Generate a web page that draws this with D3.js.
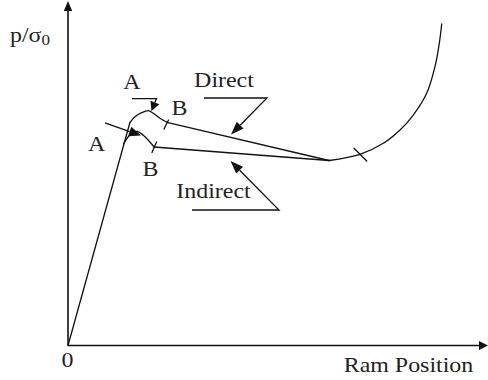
<!DOCTYPE html>
<html><head><meta charset="utf-8">
<script src="https://cdn.jsdelivr.net/npm/d3@7"></script>
<style>html,body{margin:0;padding:0;background:#fff;} svg{display:block;}</style>
</head><body><svg id="chart" width="488" height="380"></svg>
<script>
// Pressure ratio p/σ0 against ram position (arbitrary units, 0–100 on both axes)
// Elastic rise shared by both processes
const rise = [[0, 0], [14.76, 64.79]];
// Direct extrusion: breakthrough hump A–B, then falling plateau
const directHump = [[14.76, 64.79], [15.95, 66.41], [17.55, 67.58], [19.12, 68.16], [20.31, 67.40], [21.90, 65.95], [23.57, 64.79]];
const directTail = [[23.57, 64.79], [62.14, 53.70]];
// Indirect extrusion: lower hump, nearly flat plateau
const indirectHump = [[13.21, 58.49], [14.29, 60.52], [15.48, 61.83], [16.55, 62.12], [17.86, 61.10], [19.29, 59.36], [20.48, 57.62]];
const indirectTail = [[20.48, 57.62], [62.14, 53.70]];
// Final upturn
const upturn = [[62.14, 53.70], [69.52, 55.50], [75.07, 58.69], [79.05, 62.55], [82.21, 66.90], [85.40, 73.20], [87.38, 80.93], [88.40, 87.72], [88.98, 93.32]];
// Short cross-marks on the curves (B points and start of upturn)
const marks = [
  [[22.86, 62.83], [23.93, 65.44]],
  [[20.00, 56.02], [21.07, 59.07]],
  [[68.10, 57.24], [71.12, 53.56]]
];
// Axis tick labels
const xTickLabels = ["0"];
const xTitle = "Ram Position";
const yTitle = "p/σ";
const ySub = "0";

const INK = "#111";
const SX = 1.14;          // horizontal stretch of the lettering
const FS = 21;
const FONT = "Liberation Serif, Times New Roman, serif";

const x = d3.scaleLinear().domain([0, 100]).range([68, 488]);
const y = d3.scaleLinear().domain([0, 100]).range([345.5, 1]);

const svg = d3.select("#chart");
const g = svg.append("g");

// axes with arrowheads
function axisArrow(x0, y0, x1, y1, L, Wd, sw) {
  const dx = x1 - x0, dy = y1 - y0, len = Math.hypot(dx, dy);
  const ux = dx / len, uy = dy / len;
  const bx = x1 - ux * L, by = y1 - uy * L;
  g.append("line").attr("x1", x0).attr("y1", y0).attr("x2", bx).attr("y2", by)
    .attr("stroke", INK).attr("stroke-width", sw);
  g.append("path")
    .attr("d", `M${x1},${y1}L${bx - uy * Wd},${by + ux * Wd}L${bx + uy * Wd},${by - ux * Wd}Z`)
    .attr("fill", INK);
}
axisArrow(x(0), y(0), x(0), y(100), 10, 4.2, 1.6);
axisArrow(x(0), y(0), x(100), y(0), 9, 4.4, 1.6);

// curves
const straight = d3.line().x(d => x(d[0])).y(d => y(d[1]));
const smooth = d3.line().x(d => x(d[0])).y(d => y(d[1])).curve(d3.curveCatmullRom.alpha(0.5));
const curveStyle = sel => sel.attr("fill", "none").attr("stroke", INK)
  .attr("stroke-width", 1.3).attr("stroke-linejoin", "round").attr("stroke-linecap", "round");

[rise, directTail, indirectTail].forEach(s => g.append("path").attr("d", straight(s)).call(curveStyle));
[directHump, indirectHump, upturn].forEach(s => g.append("path").attr("d", smooth(s)).call(curveStyle));
marks.forEach(m => g.append("path").attr("d", straight(m)).call(curveStyle));

// leader arrows
function leader(pts, L, Wd) {
  const p = pts.map(([a, b]) => [x(a), y(b)]);
  const tip = p[p.length - 1], prev = p[p.length - 2];
  const dx = tip[0] - prev[0], dy = tip[1] - prev[1], len = Math.hypot(dx, dy);
  const ux = dx / len, uy = dy / len;
  const base = [tip[0] - ux * L, tip[1] - uy * L];
  g.append("path").attr("d", d3.line()(p.slice(0, -1).concat([base])))
    .attr("fill", "none").attr("stroke", INK).attr("stroke-width", 1.3);
  g.append("path")
    .attr("d", `M${tip[0]},${tip[1]}L${base[0] - uy * Wd},${base[1] + ux * Wd}L${base[0] + uy * Wd},${base[1] - ux * Wd}Z`)
    .attr("fill", INK);
}
leader([[15.24, 71.68], [21.07, 71.68], [19.88, 68.10]], 9, 4.8);
leader([[8.81, 64.59], [17.38, 60.96]], 12, 5);
leader([[32.38, 71.84], [47.38, 71.84], [38.81, 61.25]], 13, 4.8);
leader([[29.52, 39.33], [50.24, 39.33], [38.69, 53.56]], 13, 4.8);

// lettering
const labels = [
  { t: "A", x: 15.24, y: 74.46 },
  { t: "B", x: 26.55, y: 66.91 },
  { t: "A", x: 6.79, y: 56.60 },
  { t: "B", x: 19.64, y: 49.20 },
  { t: "Direct", x: 37.14, y: 75.04 },
  { t: "Indirect", x: 34.64, y: 42.96 },
  { t: xTitle, x: 81.07, y: -7.69 },
  { t: xTickLabels[0], x: -0.12, y: -6.24 }
];
labels.forEach(d => {
  g.append("text")
    .attr("transform", `translate(${x(d.x)},${y(d.y)}) scale(${SX},1)`)
    .attr("text-anchor", "middle")
    .attr("font-family", FONT).attr("font-size", FS).attr("fill", "#222")
    .text(d.t);
});

const yt = g.append("text")
  .attr("transform", `translate(10,42) scale(${SX},1)`)
  .attr("font-family", FONT).attr("font-size", FS).attr("fill", "#222");
yt.append("tspan").text(yTitle);
yt.append("tspan").attr("dy", 3).attr("font-size", 15).text(ySub);
</script>
</body></html>
